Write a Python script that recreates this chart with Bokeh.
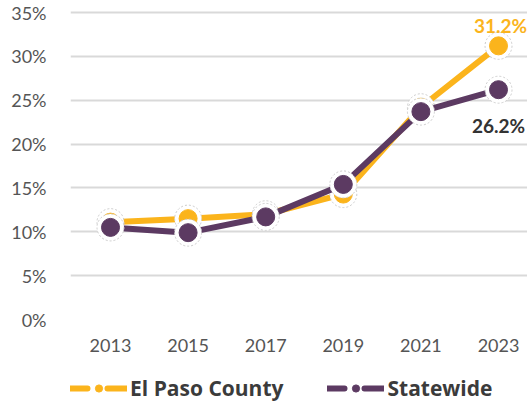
from bokeh.plotting import figure
from bokeh.layouts import column
from bokeh.models import ColumnDataSource, Range1d, FixedTicker, Legend, LegendItem
from bokeh.embed import file_html
from bokeh.resources import INLINE
from bokeh.core.properties import value

years = [2013, 2015, 2017, 2019, 2021, 2023]
el_paso = [11.1, 11.5, 12.0, 14.3, 24.2, 31.2]
statewide = [10.5, 9.9, 11.7, 15.4, 23.7, 26.2]
y_ticks = [0, 5, 10, 15, 20, 25, 30, 35]
series_names = ["El Paso County", "Statewide"]

YELLOW = "#FBB41C"
PURPLE = "#5C3A62"
FONT = "Lato"

p = figure(width=527, height=360, output_backend="svg", toolbar_location=None,
           x_range=Range1d(2011.969, 2023.747), y_range=Range1d(0, 36.37),
           min_border_left=70, min_border_right=0, min_border_top=0, min_border_bottom=41)
p.outline_line_color = None
p.background_fill_color = "white"
p.xgrid.visible = False
p.ygrid.ticker = FixedTicker(ticks=y_ticks)
p.ygrid.grid_line_color = "#d9d9d9"
p.ygrid.grid_line_width = 2

for ax in (p.xaxis[0], p.yaxis[0]):
    ax.axis_line_color = None
    ax.major_tick_line_color = None
    ax.minor_tick_line_color = None
    ax.major_label_text_font = FONT
    ax.major_label_text_font_size = "18px"
    ax.major_label_text_color = "#555555"

p.xaxis.ticker = FixedTicker(ticks=years)
p.xaxis.major_label_standoff = 13
p.yaxis.ticker = FixedTicker(ticks=y_ticks)
p.yaxis.major_label_overrides = {t: f"{t}%" for t in y_ticks}
p.yaxis.major_label_standoff = 18

src_e = ColumnDataSource(dict(x=years, y=el_paso))
src_s = ColumnDataSource(dict(x=years, y=statewide))

for src, col in ((src_e, YELLOW), (src_s, PURPLE)):
    p.line("x", "y", source=src, line_color=col, line_width=6, line_join="round")
    p.scatter("x", "y", source=src, size=27, fill_color="white", line_color="#cccccc",
              line_dash="2 2", line_width=1)
    p.scatter("x", "y", source=src, size=18, fill_color=col, line_color=col, line_width=1)

# end labels
p.text(x=[years[-1]], y=[el_paso[-1]], text=[f"{el_paso[-1]}%"], text_align="center",
       text_baseline="middle", x_offset=2, y_offset=-20, text_color=YELLOW,
       text_font=value(FONT), text_font_style="bold", text_font_size="19px")
p.text(x=[years[-1]], y=[statewide[-1]], text=[f"{statewide[-1]}%"], text_align="center",
       text_baseline="middle", x_offset=0, y_offset=36, text_color="#333333",
       text_font=value(FONT), text_font_style="bold", text_font_size="19px")

# legend strip
lg = figure(width=527, height=45, output_backend="svg", toolbar_location=None,
            x_range=Range1d(0, 1), y_range=Range1d(0, 1),
            x_axis_location=None, y_axis_location=None,
            min_border_left=0, min_border_right=0, min_border_top=0, min_border_bottom=0)
lg.grid.visible = False
lg.outline_line_color = None

items = []
for name, col in zip(series_names, (YELLOW, PURPLE)):
    l = lg.line([5, 6], [5, 5], line_color=col, line_width=6,
                line_dash="17 20 20", line_cap="round")
    s = lg.scatter([5], [5], size=12, fill_color=col, line_color=col)
    items.append(LegendItem(label=name, renderers=[l, s]))

legend = Legend(items=items, orientation="horizontal", location=(0, 3),
                glyph_width=57, glyph_height=18, label_standoff=3, spacing=44,
                padding=0, margin=0, border_line_color=None, background_fill_alpha=0,
                label_text_font="Open Sans", label_text_font_style="bold",
                label_text_font_size="21px", label_text_color="#3b3b3b")
lg.add_layout(legend)

layout = column(p, lg, spacing=0)
open("out.html", "w").write(file_html(layout, INLINE))
